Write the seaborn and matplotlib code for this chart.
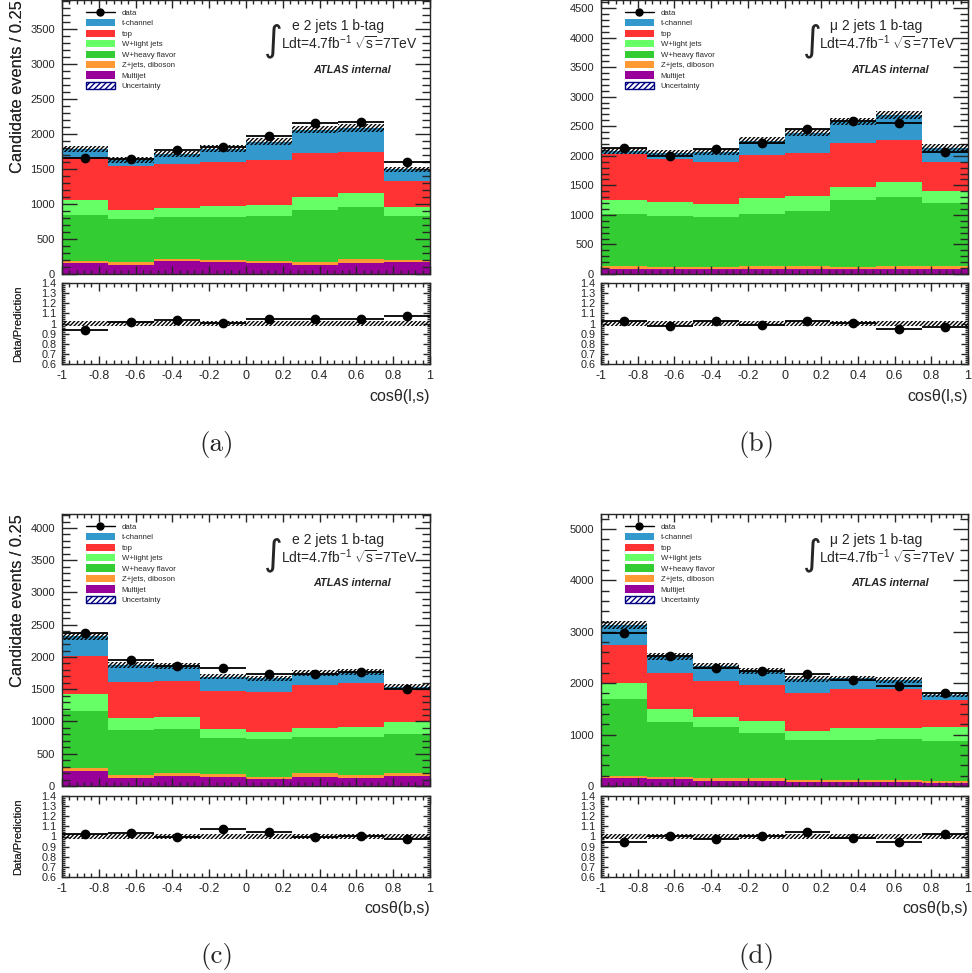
import numpy as np
import pandas as pd
import matplotlib.pyplot as plt
import seaborn as sns
from matplotlib.lines import Line2D
from matplotlib.patches import Patch
from matplotlib.ticker import MultipleLocator, FuncFormatter, NullFormatter

# ---------------------------------------------
# data (events per bin)
# ---------------------------------------------
bin_edges = [-1, -0.75, -0.5, -0.25, 0, 0.25, 0.5, 0.75, 1]
processes = ['t-channel', 'top', 'W+light jets', 'W+heavy flavor', 'Z+jets, diboson', 'Multijet']
colors = ['#3399cc', '#ff3333', '#66ff66', '#33cc33', '#ff9933', '#990099']
unc_frac = 0.025

# (a) e, cos(l,s)
a_tch = [113, 85, 146, 191, 264, 329, 344, 170]
a_top = [613, 623, 623, 623, 632, 627, 581, 367]
a_wlight = [208, 132, 141, 169, 170, 189, 198, 137]
a_whf = [665, 613, 599, 609, 632, 740, 754, 623]
a_zjets = [33, 38, 29, 23, 38, 48, 48, 23]
a_multijet = [151, 132, 179, 175, 151, 127, 160, 175]
a_data = [1660, 1645, 1774, 1807, 1976, 2151, 2170, 1599]

# (b) mu, cos(l,s)
b_tch = [51, 102, 169, 243, 349, 367, 423, 237]
b_top = [784, 716, 717, 727, 722, 739, 710, 491]
b_wlight = [242, 237, 225, 276, 248, 220, 260, 209]
b_whf = [869, 863, 835, 875, 937, 1128, 1162, 1066]
b_zjets = [56, 45, 45, 56, 56, 45, 56, 56]
b_multijet = [85, 79, 79, 79, 79, 79, 79, 79]
b_data = [2138, 1995, 2115, 2222, 2460, 2595, 2549, 2059]

# (c) e, cos(b,s)
c_tch = [295, 258, 228, 222, 212, 186, 166, 52]
c_top = [595, 570, 569, 590, 616, 657, 678, 491]
c_wlight = [264, 181, 181, 140, 108, 151, 166, 192]
c_whf = [879, 703, 678, 564, 590, 558, 584, 610]
c_zjets = [47, 47, 47, 36, 42, 52, 42, 42]
c_multijet = [238, 119, 160, 145, 103, 145, 129, 155]
c_data = [2370, 1946, 1853, 1827, 1739, 1739, 1775, 1511]

# (d) mu, cos(b,s)
d_tch = [389, 311, 298, 272, 279, 208, 175, 97]
d_top = [733, 707, 694, 694, 726, 752, 765, 519]
d_wlight = [324, 246, 208, 233, 182, 240, 214, 278]
d_whf = [1485, 1083, 992, 889, 778, 778, 791, 772]
d_zjets = [52, 39, 45, 45, 39, 39, 39, 39]
d_multijet = [149, 130, 104, 104, 78, 78, 78, 65]
d_data = [2970, 2536, 2289, 2244, 2180, 2062, 1952, 1812]

# ---------------------------------------------
# style
# ---------------------------------------------
sns.set_style('ticks')
plt.rcParams['font.family'] = ['Liberation Sans', 'DejaVu Sans']
plt.rcParams['axes.unicode_minus'] = False
plt.rcParams['mathtext.fontset'] = 'custom'
plt.rcParams['mathtext.rm'] = 'Liberation Sans'
plt.rcParams['mathtext.it'] = 'Liberation Sans:italic'
plt.rcParams['hatch.linewidth'] = 1.0

W, H = 972, 973
fig = plt.figure(figsize=(W / 100, H / 100), dpi=100)


def box(left, right, top, bottom):
    return [left / W, 1 - bottom / H, (right - left) / W, (bottom - top) / H]


panels = [
    dict(tag='(a)', lep='e', xlabel='cosθ(l,s)', ymax=3910, ymaj=500, ymin=100,
         yields=[a_tch, a_top, a_wlight, a_whf, a_zjets, a_multijet], data=a_data,
         left=62, right=430, top=0, mbot=274, rtop=283, rbot=364),
    dict(tag='(b)', lep='μ', xlabel='cosθ(l,s)', ymax=4635, ymaj=500, ymin=100,
         yields=[b_tch, b_top, b_wlight, b_whf, b_zjets, b_multijet], data=b_data,
         left=601, right=968, top=0, mbot=274, rtop=283, rbot=364),
    dict(tag='(c)', lep='e', xlabel='cosθ(b,s)', ymax=4217, ymaj=500, ymin=100,
         yields=[c_tch, c_top, c_wlight, c_whf, c_zjets, c_multijet], data=c_data,
         left=62, right=430, top=514, mbot=786, rtop=796, rbot=877),
    dict(tag='(d)', lep='μ', xlabel='cosθ(b,s)', ymax=5292, ymaj=1000, ymin=200,
         yields=[d_tch, d_top, d_wlight, d_whf, d_zjets, d_multijet], data=d_data,
         left=601, right=968, top=514, mbot=786, rtop=796, rbot=877),
]

edges = np.array(bin_edges)
centers = (edges[:-1] + edges[1:]) / 2
half_w = (edges[1] - edges[0]) / 2
fmt_g = FuncFormatter(lambda v, p: '%g' % round(v, 3))
hatch = '////////'

for p in panels:
    ax = fig.add_axes(box(p['left'], p['right'], p['top'], p['mbot']))
    rax = fig.add_axes(box(p['left'], p['right'], p['rtop'], p['rbot']))

    rows = []
    for name, vals in zip(processes, p['yields']):
        for c, v in zip(centers, vals):
            rows.append({'x': c, 'process': name, 'events': v})
    df = pd.DataFrame(rows)

    # stacked backgrounds (last hue level ends up at the bottom)
    sns.histplot(data=df, x='x', weights='events', hue='process', hue_order=processes,
                 palette=colors, multiple='stack', bins=bin_edges, element='step',
                 fill=True, alpha=1, linewidth=0, legend=False, ax=ax)

    total = np.sum(p['yields'], axis=0)
    data = np.array(p['data'], dtype=float)

    ax.bar(centers, 2 * unc_frac * total, bottom=total * (1 - unc_frac), width=2 * half_w,
           fill=False, hatch=hatch, edgecolor='k', linewidth=0, zorder=3)
    ax.errorbar(centers, data, xerr=half_w, yerr=np.sqrt(data), fmt='o', color='k',
                ms=6, elinewidth=1.3, capsize=0, zorder=4)

    ax.set_xlim(-1, 1)
    ax.set_ylim(0, p['ymax'])
    ax.set_xlabel('')
    ax.set_ylabel('')
    ax.xaxis.set_major_locator(MultipleLocator(0.2))
    ax.xaxis.set_minor_locator(MultipleLocator(0.04))
    ax.xaxis.set_major_formatter(NullFormatter())
    ax.yaxis.set_major_locator(MultipleLocator(p['ymaj']))
    ax.yaxis.set_minor_locator(MultipleLocator(p['ymin']))
    ax.tick_params(which='both', direction='in', top=True, right=True, labelsize=8, pad=5)
    ax.tick_params(axis='y', which='major', length=11, width=1)
    ax.tick_params(axis='y', which='minor', length=5.5, width=1)
    ax.tick_params(axis='x', which='major', length=6, width=1)
    ax.tick_params(axis='x', which='minor', length=3, width=1)
    for s in ax.spines.values():
        s.set_linewidth(1)
        s.set_zorder(5)
    ax.set_axisbelow(False)

    # legend
    handles = [Line2D([], [], color='k', marker='o', ms=5, lw=1)]
    handles += [Patch(facecolor=c, edgecolor='none') for c in colors]
    handles += [Patch(facecolor='white', edgecolor='#000080', hatch='//////', linewidth=1)]
    labels = ['data'] + processes + ['Uncertainty']
    ax.legend(handles, labels, loc='upper left', bbox_to_anchor=(0.065, 0.968),
              frameon=False, fontsize=5.6, handlelength=3.7, handleheight=1.05,
              handletextpad=0.9, labelspacing=0.28, borderpad=0, borderaxespad=0)

    ax.text(0.75, 0.905, p['lep'] + ' 2 jets 1 b-tag', transform=ax.transAxes,
            ha='center', va='center', fontsize=10)
    ax.text(0.575, 0.852, '∫', transform=ax.transAxes, ha='center', va='center',
            fontsize=26, family='DejaVu Sans')
    ax.text(0.595, 0.843, r'Ldt=4.7fb$^{-1}$ $\sqrt{\mathrm{s}}$=7TeV', transform=ax.transAxes,
            ha='left', va='center', fontsize=10)
    ax.text(0.788, 0.745, 'ATLAS internal', transform=ax.transAxes, ha='center',
            va='center', fontsize=7.8, fontweight='bold', fontstyle='italic')

    # ratio panel
    rax.bar(centers, 2 * unc_frac, bottom=1 - unc_frac, width=2 * half_w, fill=False,
            hatch=hatch, edgecolor='k', linewidth=0, zorder=3)
    rax.errorbar(centers, data / total, xerr=half_w, yerr=np.sqrt(data) / total, fmt='o',
                 color='k', ms=6, elinewidth=1.3, capsize=0, zorder=4)
    rax.set_xlim(-1, 1)
    rax.set_ylim(0.6, 1.4)
    rax.xaxis.set_major_locator(MultipleLocator(0.2))
    rax.xaxis.set_minor_locator(MultipleLocator(0.04))
    rax.yaxis.set_major_locator(MultipleLocator(0.1))
    rax.yaxis.set_minor_locator(MultipleLocator(0.02))
    rax.xaxis.set_major_formatter(fmt_g)
    rax.yaxis.set_major_formatter(fmt_g)
    rax.tick_params(which='both', direction='in', top=True, right=True, pad=4)
    rax.tick_params(axis='y', which='major', length=5, width=1, labelsize=7.8)
    rax.tick_params(axis='y', which='minor', length=2.5, width=1)
    rax.tick_params(axis='x', which='major', length=6, width=1, labelsize=9)
    rax.tick_params(axis='x', which='minor', length=3, width=1)
    for s in rax.spines.values():
        s.set_linewidth(1)

    # labels in figure pixels
    fig.text(18 / W, 1 - p['top'] / H, 'Candidate events / 0.25', rotation=90,
             ha='center', va='top', fontsize=11.8)
    fig.text(18 / W, 1 - (p['rtop'] + p['rbot']) / 2 / H, 'Data/Prediction', rotation=90,
             ha='center', va='center', fontsize=8)
    fig.text(p['right'] / W, 1 - (p['rbot'] + 32) / H, p['xlabel'], ha='right',
             va='center', fontsize=11.5)
    fig.text((p['left'] + 155) / W, 1 - (p['rbot'] + 80) / H, p['tag'], ha='center',
             va='center', fontsize=19.5, family='cmr10')

fig.savefig('out.png', dpi=100)
